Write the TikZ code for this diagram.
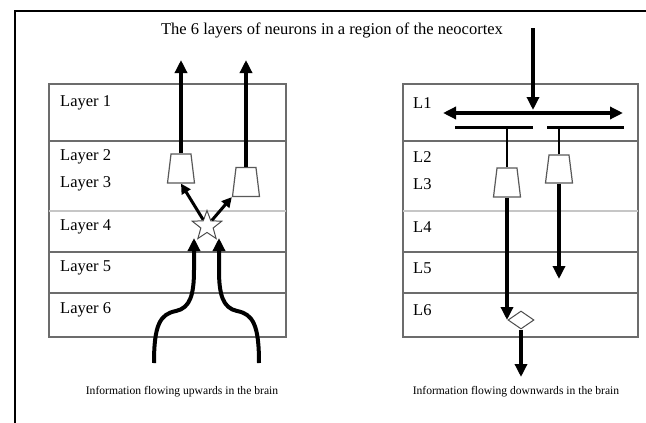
\documentclass[tikz,border=0pt]{standalone}
\usepackage{fontspec}
\setmainfont{Liberation Serif}
\usetikzlibrary{arrows.meta,shapes.geometric}
\tikzset{
  tbl/.style={draw=gray!85!black, line width=1.2pt},
  faint/.style={draw=gray!45, line width=1.2pt},
  lbl/.style={anchor=west, inner sep=0pt, font=\fontsize{16.5}{18}\selectfont},
  capt/.style={inner sep=0pt, font=\fontsize{11.6}{13}\selectfont},
  axon/.style={line width=4pt, -{Triangle[length=13pt,width=12pt]}},
  twig/.style={line width=3pt, -{Triangle[length=10pt,width=10pt]}},
  dend/.style={line width=1.5pt},
  cell/.style={trapezium, trapezium stretches=true, trapezium left angle=80,
    trapezium right angle=80, draw=gray!70!black, line width=1.2pt, fill=white,
    minimum width=27pt, minimum height=29pt, inner sep=1pt},
}
\begin{document}
\begin{tikzpicture}[x=1pt,y=-1pt]
    \useasboundingbox (0,0) rectangle (646,423);
    \draw [line width=2pt](15,423) -- (15,11) -- (646,11);

    \draw [tbl](49,84) rectangle (286,337);
    \draw [tbl](49,141) -- (286,141);
    \draw [faint](49,211) -- (286,211);
    \draw [tbl](49,252) -- (286,252);
    \draw [tbl](49,293) -- (286,293);
    \draw [tbl](403,84) rectangle (638,337);
    \draw [tbl](403,141) -- (638,141);
    \draw [faint](403,211) -- (638,211);
    \draw [tbl](403,252) -- (638,252);
    \draw [tbl](403,293) -- (638,293);

    \node [font=\fontsize{16.5}{18}\selectfont, inner sep=0pt] (title) at (332,30) {The 6 layers of neurons in a region of the neocortex};

    \node [lbl] (la1) at (60,103) {Layer 1};
    \node [lbl] (la2) at (60,157) {Layer 2};
    \node [lbl] (la3) at (60,184) {Layer 3};
    \node [lbl] (la4) at (60,227) {Layer 4};
    \node [lbl] (la5) at (60,268) {Layer 5};
    \node [lbl] (la6) at (60,310) {Layer 6};
    \node [lbl] (lb1) at (413,103) {L1};
    \node [lbl] (lb2) at (413,157) {L2};
    \node [lbl] (lb3) at (413,184) {L3};
    \node [lbl] (lb4) at (413,227) {L4};
    \node [lbl] (lb5) at (413,268) {L5};
    \node [lbl] (lb6) at (413,310) {L6};

    \node [capt] (capL) at (182,392) {Information flowing upwards in the brain};
    \node [capt] (capR) at (516,392) {Information flowing downwards in the brain};

    \node [cell] (tA) at (181,168.5) {};
    \node [cell] (tB) at (246,182) {};
    \node [star, star points=5, star point ratio=2.4, draw=gray!60!black, line width=1pt,
      fill=white, minimum size=31pt, inner sep=1pt] (st) at (207,226) {};
    \coordinate (outA) at (181,60);
    \coordinate (outB) at (246,60);
    \coordinate (inL) at (154,363);
    \coordinate (inR) at (259,363);
    \coordinate (upL) at (194,238);
    \coordinate (upR) at (219,238);

    \draw [axon](tA) -- (outA);
    \draw [axon](tB) -- (outB);
    \draw [twig](st) -- (tA.south);
    \draw [twig](st) -- (tB.bottom left corner);
    \draw [axon](inL) .. controls (154,325) and (160,314) .. (176,311)
      .. controls (190,308) and (194,295) .. (194,270) -- (upL);
    \draw [axon](inR) .. controls (259,325) and (253,314) .. (237,311)
      .. controls (223,308) and (219,295) .. (219,270) -- (upR);

    \node [cell] (tC) at (507,182.5) {};
    \node [cell, minimum height=28pt] (tD) at (559,169) {};
    \node [diamond, draw=gray!60!black, line width=1pt, fill=white, minimum width=26pt,
      minimum height=18pt, inner sep=1pt] (dm) at (521,320) {};
    \coordinate (top) at (533,28);
    \coordinate (hit) at (533,110);
    \coordinate (spL) at (443,113);
    \coordinate (spR) at (623,113);
    \coordinate (dnD) at (559,279);
    \coordinate (out) at (521,377);

    \draw [axon](top) -- (hit);
    \draw [axon, {Triangle[length=13pt,width=12pt]}-{Triangle[length=13pt,width=12pt]}](spL) -- (spR);
    \draw [line width=3pt](455,127) -- (533,127);
    \draw [line width=3pt](547,127) -- (624,127);
    \draw [dend](tC.north) -- ++(0,-41);
    \draw [dend](tD.north) -- ++(0,-28);
    \draw [axon](tC) -- (tC.south |- dm.west);
    \draw [axon](tD) -- (dnD);
    \draw [axon](dm) -- (out);

    \end{tikzpicture}
\end{document}
